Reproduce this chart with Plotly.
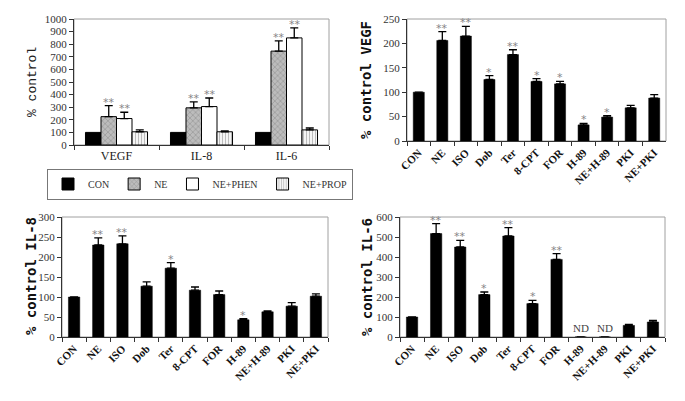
import plotly.graph_objects as go

# ---------------- data ----------------
tl_groups = ["VEGF", "IL-8", "IL-6"]
tl_series = ["CON", "NE", "NE+PHEN", "NE+PROP"]
tl_con = [100, 100, 100]
tl_con_err = [0, 0, 0]
tl_ne = [225, 295, 745]
tl_ne_err = [88, 48, 82]
tl_phen = [210, 305, 850]
tl_phen_err = [50, 68, 80]
tl_prop = [105, 105, 120]
tl_prop_err = [15, 7, 15]
tl_ne_sig = ["**", "**", "**"]
tl_phen_sig = ["**", "**", "**"]

agents = ["CON", "NE", "ISO", "Dob", "Ter", "8-CPT", "FOR", "H-89", "NE+H-89", "PKI", "NE+PKI"]
vegf = [100, 206, 215, 126, 177, 122, 117, 33, 49, 68, 88]
vegf_err = [0, 18, 20, 8, 10, 6, 5, 3, 3, 5, 7]
vegf_sig = ["", "**", "**", "*", "**", "*", "*", "*", "*", "", ""]
il8 = [100, 230, 233, 127, 172, 117, 106, 43, 63, 77, 102]
il8_err = [0, 18, 20, 11, 14, 8, 9, 3, 2, 9, 6]
il8_sig = ["", "**", "**", "", "*", "", "", "*", "", "", ""]
il6 = [100, 517, 450, 212, 505, 167, 388, 0, 0, 58, 75]
il6_err = [0, 50, 33, 13, 42, 16, 29, 0, 0, 5, 8]
il6_sig = ["", "**", "**", "*", "**", "*", "**", "", "", "", ""]
il6_nd = ["", "", "", "", "", "", "", "ND", "ND", "", ""]

W, H = 685, 401
SERIF = "Liberation Serif, Times New Roman, serif"
MONO = "Liberation Mono, Courier New, monospace"
MONOB = "DejaVu Sans Mono, monospace"
STAR_COLOR = "#858585"

fig = go.Figure()

def err(arr, width=4):
    return dict(type="data", array=arr, arrayminus=[0] * len(arr), symmetric=False,
                color="black", thickness=1.3, width=width)

# ---------- top-left grouped chart ----------
tl_styles = [
    dict(color="black", pattern=None),
    dict(color="#bcbcbc", pattern=dict(shape="x", fgcolor="#6e6e6e", size=4, solidity=0.3, fillmode="overlay")),
    dict(color="white", pattern=None),
    dict(color="white", pattern=dict(shape="|", fgcolor="#7a7a7a", size=3, solidity=0.45, fillmode="overlay")),
]
tl_vals = [tl_con, tl_ne, tl_phen, tl_prop]
tl_errs = [tl_con_err, tl_ne_err, tl_phen_err, tl_prop_err]
for name, vals, errs, st in zip(tl_series, tl_vals, tl_errs, tl_styles):
    marker = dict(color=st["color"], line=dict(color="black", width=1))
    if st["pattern"]:
        marker["pattern"] = st["pattern"]
    fig.add_trace(go.Bar(x=tl_groups, y=vals, name=name, marker=marker,
                         error_y=err(errs, 4) if name != "CON" else None,
                         xaxis="x", yaxis="y", showlegend=True))

# ---------- the three single-series charts ----------
panels = [
    ("x2", "y2", vegf, vegf_err, vegf_sig),
    ("x3", "y3", il8, il8_err, il8_sig),
    ("x4", "y4", il6, il6_err, il6_sig),
]
for xa, ya, vals, errs, sig in panels:
    fig.add_trace(go.Bar(x=agents, y=vals, width=0.47,
                         marker=dict(color="black", line=dict(color="black", width=0.5)),
                         error_y=err(errs, 4), xaxis=xa, yaxis=ya, showlegend=False))

# ---------- significance stars ----------
annotations = []
def add_stars(xref, yref, cats, vals, errs, sig, xoffset=0):
    for c, v, e, s in zip(cats, vals, errs, sig):
        if s:
            annotations.append(dict(x=c, y=v + e, xref=xref, yref=yref, text=s,
                                    showarrow=False, yanchor="bottom", yshift=-5,
                                    xshift=xoffset,
                                    font=dict(family="DejaVu Sans", size=11, color=STAR_COLOR)))

# grouped panel: NE is 2nd bar, PHEN 3rd bar of 4 in group (offsets in px)
add_stars("x", "y", tl_groups, tl_ne, tl_ne_err, tl_ne_sig, xoffset=-8)
add_stars("x", "y", tl_groups, tl_phen, tl_phen_err, tl_phen_sig, xoffset=8)
for xa, ya, vals, errs, sig in panels:
    add_stars(xa, ya, agents, vals, errs, sig)
for c, v, t in zip(agents, il6, il6_nd):
    if t:
        annotations.append(dict(x=c, y=v, xref="x4", yref="y4", text=t, showarrow=False,
                                yanchor="bottom", yshift=1,
                                font=dict(family=SERIF, size=11, color="#444")))

# ---------- axis titles ----------
def px_x(p):
    return p / W
def px_y(p):
    return 1 - p / H

titles = [
    ("% control", 32, 82, dict(family=MONO, size=13, color="#222")),
    ("% control VEGF", 366, 80, dict(family=MONOB, size=14, color="#111", weight="bold")),
    ("% control IL-8", 31, 276, dict(family=MONOB, size=14, color="#111", weight="bold")),
    ("% control IL-6", 367, 277, dict(family=MONOB, size=14, color="#111", weight="bold")),
]
for t, xp, yp, f in titles:
    annotations.append(dict(text=t, x=px_x(xp), y=px_y(yp),
                            xref="paper", yref="paper", textangle=-90, showarrow=False,
                            xanchor="center", yanchor="middle", font=f))

# ---------- axes layout ----------
dom = {
    "1": ((74, 329), (19, 145)),
    "2": ((407, 666), (19, 141)),
    "3": ((62, 328), (217, 337)),
    "4": ((400, 665), (217, 337)),
}
def xdom(k):
    a, b = dom[k][0]
    return [a / W, b / W]
def ydom(k):
    a, b = dom[k][1]
    return [1 - b / H, 1 - a / H]

common_y = dict(showline=True, linecolor="#333", linewidth=1, ticks="outside", ticklen=4,
                tickcolor="#333", showgrid=False, zeroline=False, automargin=False,
                tickfont=dict(family=SERIF, size=11, color="#333"))
common_x = dict(showline=True, linecolor="#333", linewidth=1, ticks="outside", ticklen=4,
                tickcolor="#333", showgrid=False, zeroline=False, tickson="boundaries",
                type="category", automargin=False)
agent_font = dict(family=SERIF, size=11, color="#111", weight="bold")

layout = dict(
    width=W, height=H, margin=dict(l=0, r=0, t=0, b=0, autoexpand=False),
    paper_bgcolor="white", plot_bgcolor="white",
    barmode="group", bargap=0.27, bargroupgap=0,
    xaxis=dict(domain=xdom("1"), anchor="y", tickfont=dict(family=SERIF, size=12, color="#222"),
               **common_x),
    yaxis=dict(domain=ydom("1"), anchor="x", range=[0, 1000], dtick=100, **common_y),
    xaxis2=dict(domain=xdom("2"), anchor="y2", tickangle=-45, tickfont=agent_font, **common_x),
    yaxis2=dict(domain=ydom("2"), anchor="x2", range=[0, 250], dtick=50, **common_y),
    xaxis3=dict(domain=xdom("3"), anchor="y3", tickangle=-45, tickfont=agent_font, **common_x),
    yaxis3=dict(domain=ydom("3"), anchor="x3", range=[0, 300], dtick=50, **common_y),
    xaxis4=dict(domain=xdom("4"), anchor="y4", tickangle=-45, tickfont=agent_font, **common_x),
    yaxis4=dict(domain=ydom("4"), anchor="x4", range=[0, 600], dtick=100, **common_y),
    legend=dict(orientation="h", x=px_x(200), y=px_y(184), xanchor="center", yanchor="middle",
                bordercolor="#777", borderwidth=1, bgcolor="white", itemwidth=30,
                font=dict(family=SERIF, size=10, color="#333"), tracegroupgap=0),
    annotations=annotations,
    showlegend=True,
)
fig.update_layout(**layout)

# plot-area frame (grey top/right border)
for k in ["", "2", "3", "4"]:
    fig.add_shape(type="rect", xref=f"x{k} domain", yref=f"y{k} domain", x0=0, x1=1, y0=0, y1=1,
                  line=dict(color="#a0a0a0", width=1), layer="below")

fig.write_html("out.html", config={"displayModeBar": False},
               post_script="document.body.style.margin='0';")
